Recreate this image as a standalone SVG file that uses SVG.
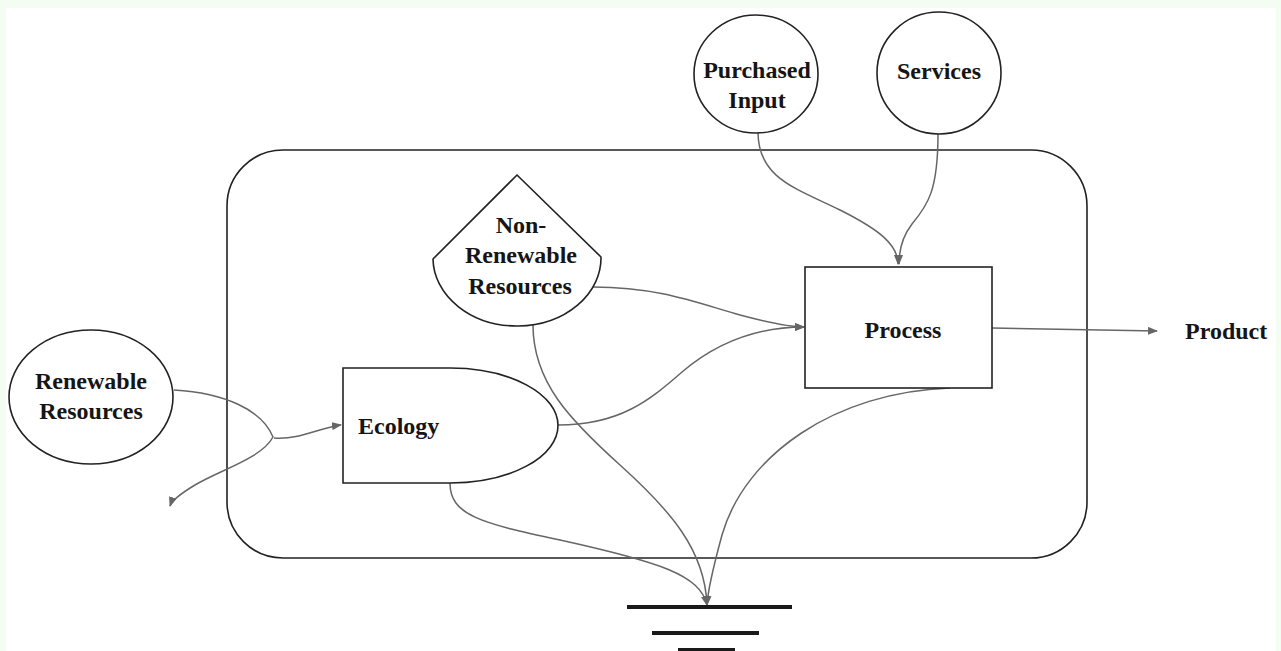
<svg xmlns="http://www.w3.org/2000/svg" width="1281" height="651" viewBox="0 0 1281 651">
  <style>
    .shape { fill: #ffffff; stroke: #222222; stroke-width: 1.6; }
    .label { font-family: "Liberation Serif", "Times New Roman", serif; font-weight: bold; font-size: 24px; fill: #151515; }
    .mid { text-anchor: middle; }
    .flow { fill: none; stroke: #666666; stroke-width: 1.5; }
    .ground { stroke: #1a1a1a; stroke-width: 4; }
  </style>
  <defs>
    <marker id="arrow" viewBox="0 0 10 8" refX="9" refY="4" markerWidth="10" markerHeight="8" markerUnits="userSpaceOnUse" orient="auto">
      <path d="M0,0 L10,4 L0,8 Z" fill="#666666"/>
    </marker>
  </defs>

  <!-- page background with a pale frame -->
  <rect x="0" y="0" width="1281" height="651" fill="#f4fdf2"/>
  <rect x="6" y="8" width="1270" height="643" fill="#ffffff"/>

  <!-- system boundary -->
  <g id="system-boundary">
    <rect x="227" y="150" width="860" height="408" rx="56" ry="56" fill="none" stroke="#222222" stroke-width="1.6"/>
  </g>

  <!-- connectors -->
  <g id="connectors">
    <!-- renewable inflow: into Ecology, with a loop passing by the system -->
    <path class="flow" d="M174,390 C225,393 262,410 273,437 C262,458 220,470 195,485 C180,494 172,500 170,506" marker-end="url(#arrow)"/>
    <path class="flow" d="M274,438 C300,440 318,428 341,425" marker-end="url(#arrow)"/>
    <!-- purchased input and services into Process -->
    <path class="flow" d="M758,132 C758,178 795,188 840,210 C880,230 898,245 898,264" marker-end="url(#arrow)"/>
    <path class="flow" d="M938,134 C938,190 928,205 912,224 C902,237 899,250 899,264" marker-end="url(#arrow)"/>
    <!-- non-renewable and ecology into Process -->
    <path class="flow" d="M593,287 C660,287 700,304 740,315 C770,323 790,327 804,327" marker-end="url(#arrow)"/>
    <path class="flow" d="M558,425 C620,425 650,400 682,372 C722,338 765,327 804,327" marker-end="url(#arrow)"/>
    <!-- Process to Product -->
    <path class="flow" d="M992,328 L1157,331" marker-end="url(#arrow)"/>
    <!-- losses to heat sink -->
    <path class="flow" d="M533,325 C533,382 570,420 620,465 C670,510 705,550 707,605" marker-end="url(#arrow)"/>
    <path class="flow" d="M450,483 C450,515 480,523 560,540 C660,562 700,575 707,605" marker-end="url(#arrow)"/>
    <path class="flow" d="M950,388 C835,392 745,455 722,535 C713,568 708,588 707,605" marker-end="url(#arrow)"/>
  </g>

  <!-- nodes -->
  <g id="renewable-resources">
    <ellipse class="shape" cx="91" cy="397" rx="82" ry="67"/>
    <text class="label mid" x="91" y="389">Renewable</text>
    <text class="label mid" x="91" y="419">Resources</text>
  </g>

  <g id="purchased-input">
    <ellipse class="shape" cx="756" cy="74" rx="62" ry="59"/>
    <text class="label mid" x="757" y="78">Purchased</text>
    <text class="label mid" x="757" y="108">Input</text>
  </g>

  <g id="services">
    <ellipse class="shape" cx="939" cy="73" rx="62" ry="61"/>
    <text class="label mid" x="939" y="79">Services</text>
  </g>

  <g id="non-renewable-resources">
    <path class="shape" d="M517,175 L601,257 A84,68 0 0 1 433,259 Z"/>
    <text class="label mid" x="521" y="233">Non-</text>
    <text class="label mid" x="521" y="263">Renewable</text>
    <text class="label mid" x="520" y="294">Resources</text>
  </g>

  <g id="ecology">
    <path class="shape" d="M343,368 L450,368 A108,57.5 0 0 1 450,483 L343,483 Z"/>
    <text class="label" x="358" y="434">Ecology</text>
  </g>

  <g id="process">
    <rect class="shape" x="805" y="267" width="187" height="121"/>
    <text class="label mid" x="903" y="338">Process</text>
  </g>

  <g id="product">
    <text class="label" x="1185" y="339">Product</text>
  </g>

  <g id="heat-sink">
    <line class="ground" x1="627" y1="607" x2="792" y2="607"/>
    <line class="ground" x1="652" y1="633" x2="759" y2="633"/>
    <line class="ground" x1="678" y1="650" x2="735" y2="650"/>
  </g>
</svg>
